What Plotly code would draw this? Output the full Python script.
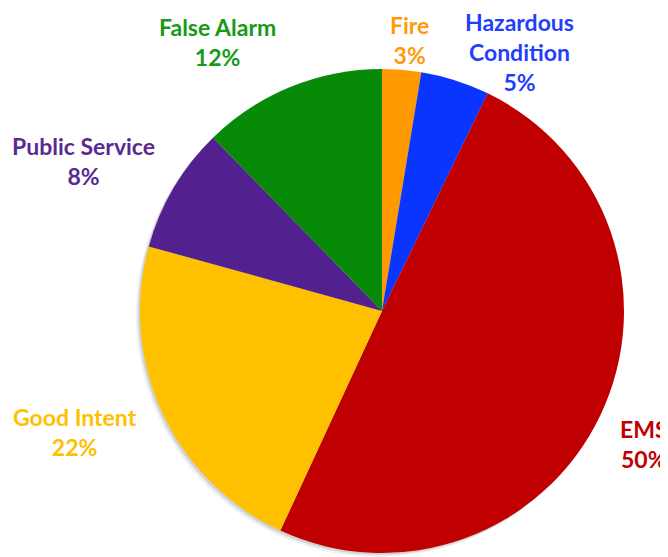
import plotly.graph_objects as go

# ---- data ----
categories = ["Fire", "Hazardous<br>Condition", "EMS", "Good Intent", "Public Service", "False Alarm"]
values = [2.6, 4.6, 49.7, 22.4, 8.4, 12.3]

# ---- styles ----
slice_colors = ["#FF9900", "#0A35FF", "#C00000", "#FFC000", "#52208F", "#078A07"]
text_colors = ["#FF9A0A", "#1F3FFF", "#C00000", "#FFC000", "#5A2A92", "#179A17"]
# label block centres in page pixels (layout, not data)
label_px = [(409, 40), (519, 52), (644, 444), (75, 432), (83, 161), (217, 42)]

PAGE_W, PAGE_H = 668, 557
OFF = 8  # default body margin of the html page
W, H = PAGE_W - OFF, PAGE_H - OFF
cx, cy, R = 382 - OFF, 311 - OFF, 242

def dom(x0, x1, y0, y1):
    return dict(x=[max(0, x0 / W), min(1, x1 / W)],
                y=[max(0, (H - y1) / H), min(1, (H - y0) / H)])

fig = go.Figure()

# soft shadow layers
for dx, dy, op in [(-4, 4, 0.06), (-2, 2, 0.12)]:
    fig.add_trace(go.Pie(
        values=[1], labels=["shadow"], sort=False,
        marker=dict(colors=[f"rgba(0,0,0,{op})"], line=dict(width=0)),
        textinfo="none", hoverinfo="skip", showlegend=False,
        domain=dom(cx - R + dx, cx + R + dx, cy - R + dy, cy + R + dy),
    ))

fig.add_trace(go.Pie(
    labels=categories, values=values, sort=False, direction="clockwise",
    rotation=0,
    marker=dict(colors=slice_colors, line=dict(width=0)),
    textinfo="none", showlegend=False,
    domain=dom(cx - R, cx + R, cy - R, cy + R),
))

total = sum(values)
annotations = []
for cat, v, col, (px, py) in zip(categories, values, text_colors, label_px):
    pct = round(v / total * 100)
    annotations.append(dict(
        x=(px - OFF) / W, y=(H - (py - OFF)) / H, xref="paper", yref="paper",
        text=f"<b>{cat}<br>{pct}%</b>", showarrow=False,
        font=dict(family="Lato, Open Sans, sans-serif", size=23, color=col),
        xanchor="center", yanchor="middle", align="center",
    ))

fig.update_layout(
    width=W, height=H,
    margin=dict(l=0, r=0, t=0, b=0),
    paper_bgcolor="white", plot_bgcolor="white",
    annotations=annotations,
)

fig.write_html("out.html")
